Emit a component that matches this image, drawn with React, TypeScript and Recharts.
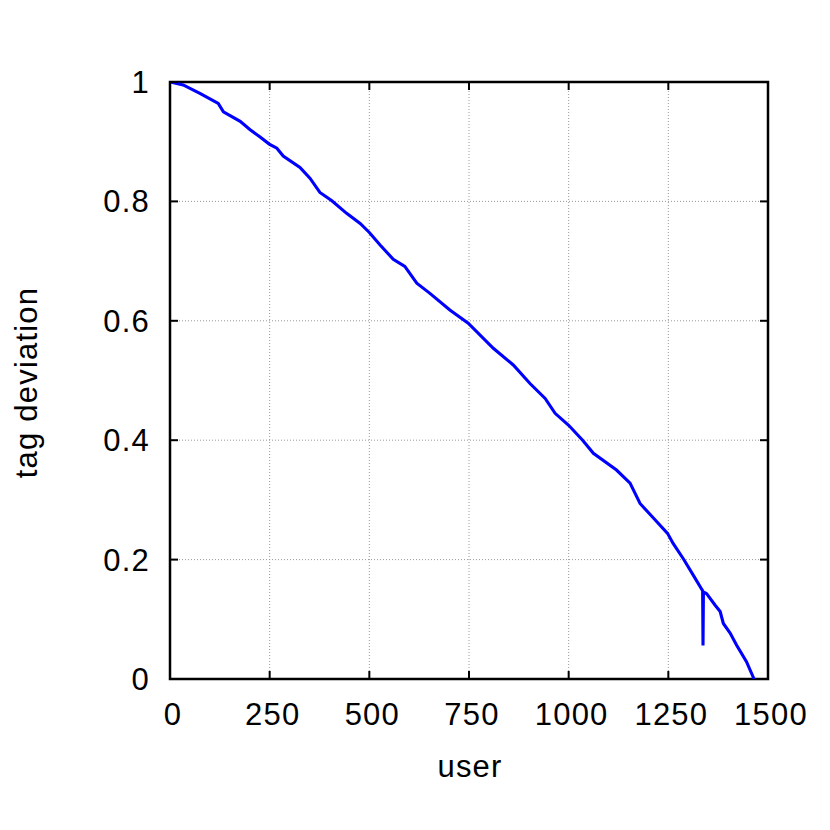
import React from 'react';
import { LineChart, Line, XAxis, YAxis, CartesianGrid, ReferenceArea } from 'recharts';

// ---- data ----
const users = [
  0, 33, 75, 121, 134, 176, 201, 226, 249, 268, 284, 326, 351, 376, 406, 443, 477, 500,
  527, 560, 589, 619, 652, 702, 748, 811, 861, 903, 941, 966, 1000, 1035, 1062, 1120,
  1154, 1179, 1212, 1248, 1262, 1288, 1317, 1334, 1336, 1337, 1338, 1346, 1367, 1380,
  1388, 1405, 1421, 1446, 1465,
];
const deviation = [
  1.0, 0.995, 0.981, 0.964, 0.95, 0.934, 0.92, 0.908, 0.896, 0.889, 0.876, 0.857, 0.839,
  0.815, 0.801, 0.78, 0.763, 0.748, 0.727, 0.703, 0.691, 0.663, 0.646, 0.618, 0.596,
  0.554, 0.526, 0.495, 0.47, 0.445, 0.425, 0.4, 0.378, 0.35, 0.328, 0.294, 0.27, 0.244,
  0.227, 0.201, 0.169, 0.15, 0.148, 0.056, 0.146, 0.143, 0.124, 0.113, 0.093, 0.077,
  0.057, 0.029, 0.0,
];
const xTicks = [0, 250, 500, 750, 1000, 1250, 1500];
const yTicks = [0, 0.2, 0.4, 0.6, 0.8, 1];
const yTickLabels = ['0', '0.2', '0.4', '0.6', '0.8', '1'];
const xTitle = 'user';
const yTitle = 'tag deviation';

const data = users.map((u, i) => ({ user: u, dev: deviation[i] }));

// ---- layout ----
const W = 814;
const H = 814;
const M = { top: 74, right: 54, bottom: 83, left: 0 };
const Y_AXIS_W = 162;
const X_AXIS_H = 60;
const PW = W - M.left - M.right - Y_AXIS_W; // 598
const PH = H - M.top - M.bottom - X_AXIS_H; // 597
const PLOT_L = M.left + Y_AXIS_W;
const PLOT_T = M.top;
const FONT = '"Liberation Sans", Arial, Helvetica, sans-serif';
const FS = 31;
const LS = 1.2;
const TICK = 8;

const XTick = (props: any) => {
  const { x, y, payload } = props;
  return (
    <g>
      <line x1={x} y1={y} x2={x} y2={y - TICK} stroke="#000" strokeWidth={2} />
      <line x1={x} y1={y - PH} x2={x} y2={y - PH + TICK} stroke="#000" strokeWidth={2} />
      <text
        x={x + 3}
        y={y + 46}
        textAnchor="middle"
        fontFamily={FONT}
        fontSize={FS}
        letterSpacing={LS}
        fill="#000"
      >
        {payload.value}
      </text>
    </g>
  );
};

const YTick = (props: any) => {
  const { x, y, payload, index } = props;
  const i = yTicks.indexOf(payload.value);
  const lbl = i >= 0 ? yTickLabels[i] : yTickLabels[index];
  return (
    <g>
      <line x1={x} y1={y} x2={x + TICK} y2={y} stroke="#000" strokeWidth={2} />
      <line x1={x + PW} y1={y} x2={x + PW - TICK} y2={y} stroke="#000" strokeWidth={2} />
      <text
        x={x - 20}
        y={y + 11}
        textAnchor="end"
        fontFamily={FONT}
        fontSize={FS}
        letterSpacing={LS}
        fill="#000"
      >
        {lbl}
      </text>
    </g>
  );
};

const XTitle = () => (
  <text
    x={PLOT_L + PW / 2 + 1}
    y={PLOT_T + PH + 98}
    textAnchor="middle"
    fontFamily={FONT}
    fontSize={FS}
    letterSpacing={LS}
    fill="#000"
  >
    {xTitle}
  </text>
);

const YTitle = () => {
  const cx = 29;
  const cy = PLOT_T + PH / 2 + 2;
  return (
    <text
      x={cx}
      y={cy}
      transform={`rotate(-90 ${cx} ${cy})`}
      textAnchor="middle"
      fontFamily={FONT}
      fontSize={FS}
      letterSpacing={LS}
      fill="#000"
    >
      {yTitle}
    </text>
  );
};

export default function App() {
  return (
    <div style={{ width: W, height: H }}>
      <LineChart width={W} height={H} data={data} margin={M}>
        <CartesianGrid
          stroke="#999"
          strokeWidth={1}
          strokeDasharray="1 2"
          horizontalValues={yTicks}
          verticalValues={xTicks}
        />
        <XAxis
          dataKey="user"
          type="number"
          domain={[0, 1500]}
          ticks={xTicks}
          height={X_AXIS_H}
          axisLine={false}
          tickLine={false}
          tickSize={0}
          tickMargin={0}
          tick={<XTick />}
          interval={0}
          allowDataOverflow
          label={XTitle}
        />
        <YAxis
          dataKey="dev"
          type="number"
          domain={[0, 1]}
          ticks={yTicks}
          width={Y_AXIS_W}
          axisLine={false}
          tickLine={false}
          tickSize={0}
          tickMargin={0}
          tick={<YTick />}
          interval={0}
          allowDataOverflow
          label={YTitle}
        />
        <Line
          type="linear"
          dataKey="dev"
          stroke="#0000ff"
          strokeWidth={3.1}
          dot={false}
          activeDot={false}
          isAnimationActive={false}
        />
        <ReferenceArea
          x1={0}
          x2={1500}
          y1={0}
          y2={1}
          fill="none"
          fillOpacity={0}
          stroke="#000"
          strokeWidth={2.5}
          ifOverflow="visible"
        />
      </LineChart>
    </div>
  );
}
